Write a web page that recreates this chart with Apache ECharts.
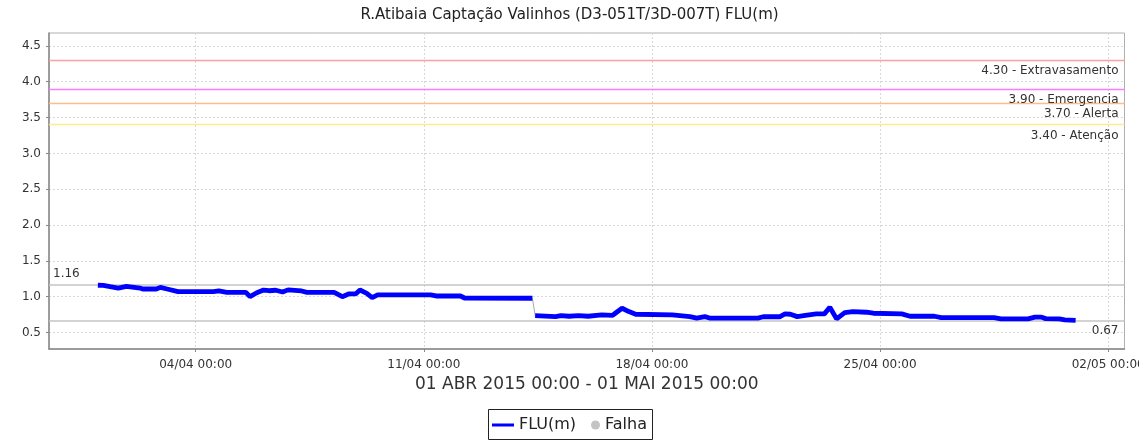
<!DOCTYPE html>
<html>
<head>
<meta charset="utf-8">
<script src="https://cdn.jsdelivr.net/npm/echarts@6/dist/echarts.min.js"></script>
<style>
html,body{margin:0;padding:0;background:#fff;}
#chart{width:1139px;height:441px;}
</style>
</head>
<body>
<div id="chart"></div>
<script>
// ---- data ----
const fluTimes = [
'2015-04-01 00:00','2015-04-01 04:00','2015-04-01 09:00','2015-04-01 15:00','2015-04-01 21:00',
'2015-04-02 07:00','2015-04-02 09:00','2015-04-02 19:00','2015-04-02 22:00','2015-04-03 03:00',
'2015-04-03 11:00','2015-04-04 13:00','2015-04-04 17:00','2015-04-04 23:00','2015-04-05 13:00',
'2015-04-05 16:00','2015-04-05 21:00','2015-04-06 02:00','2015-04-06 06:00','2015-04-06 11:00',
'2015-04-06 16:00','2015-04-06 20:00','2015-04-07 06:00','2015-04-07 10:00','2015-04-08 06:00',
'2015-04-08 12:00','2015-04-08 17:00','2015-04-08 22:00','2015-04-09 01:00','2015-04-09 06:00',
'2015-04-09 10:00','2015-04-09 14:00','2015-04-11 05:00','2015-04-11 09:00','2015-04-12 03:00',
'2015-04-12 06:00','2015-04-14 08:00','2015-04-14 09:00','2015-04-14 10:00','2015-04-15 01:00',
'2015-04-15 05:00','2015-04-15 11:00','2015-04-15 18:00','2015-04-16 01:00','2015-04-16 11:00',
'2015-04-16 19:00','2015-04-16 21:00','2015-04-17 02:00','2015-04-17 07:00','2015-04-17 12:00',
'2015-04-18 15:00','2015-04-19 04:00','2015-04-19 09:00','2015-04-19 15:00','2015-04-19 19:00',
'2015-04-21 06:00','2015-04-21 10:00','2015-04-21 22:00','2015-04-22 02:00','2015-04-22 06:00',
'2015-04-22 11:00','2015-04-22 17:00','2015-04-23 01:00','2015-04-23 07:00','2015-04-23 11:00',
'2015-04-23 16:00','2015-04-23 22:00','2015-04-24 04:00','2015-04-24 14:00','2015-04-24 19:00',
'2015-04-25 16:00','2015-04-25 22:00','2015-04-26 16:00','2015-04-26 21:00','2015-04-28 12:00',
'2015-04-28 17:00','2015-04-29 13:00','2015-04-29 18:00','2015-04-29 23:00','2015-04-30 02:00',
'2015-04-30 12:00','2015-04-30 16:00','2015-05-01 00:00'
];
const fluValues = [
1.16,1.158,1.14,1.12,1.145,
1.12,1.107,1.107,1.13,1.107,
1.07,1.07,1.08,1.06,1.06,
1.0,1.055,1.093,1.083,1.09,
1.065,1.095,1.08,1.06,1.06,
1.0,1.04,1.04,1.093,1.047,
0.986,1.024,1.024,1.01,1.01,
0.982,0.978,null,0.736,0.722,
0.736,0.727,0.736,0.727,0.746,
0.74,0.769,0.839,0.792,0.755,
0.746,0.722,0.70,0.722,0.70,
0.70,0.72,0.72,0.76,0.755,
0.722,0.74,0.76,0.76,0.853,
0.69,0.778,0.792,0.783,0.769,
0.76,0.727,0.727,0.708,0.708,
0.69,0.69,0.714,0.714,0.694,
0.69,0.676,0.67
];
const falhaTimes = ['2015-04-14 08:00','2015-04-14 10:00'];
const falhaValues = [0.978, 0.736];

const thresholdValues = [4.30, 3.90, 3.70, 3.40];
const thresholdNames = ['Extravasamento', 'Emergencia', 'Alerta', 'Atenção'];
const thresholdColors = ['#ff9f9f', '#ff7aff', '#ffbb88', '#ffe98a'];

const yTickValues = [0.5, 1.0, 1.5, 2.0, 2.5, 3.0, 3.5, 4.0, 4.5];
const xTickDates = ['2015-04-04 00:00','2015-04-11 00:00','2015-04-18 00:00','2015-04-25 00:00','2015-05-02 00:00'];
const xMin = '2015-03-30 12:00';
const xMax = '2015-05-02 12:00';
const yMin = 0.27, yMax = 4.68;

const titleText = 'R.Atibaia Captação Valinhos (D3-051T/3D-007T) FLU(m)';
const xAxisName = '01 ABR 2015 00:00 - 01 MAI 2015 00:00';

// ---- build ----
const FONT = 'DejaVu Sans';
const ts = s => +echarts.time.parse(s);
const fluData = fluTimes.map((t, i) => [ts(t), fluValues[i]]);
const falhaData = falhaTimes.map((t, i) => [ts(t), falhaValues[i]]);
const xTicks = xTickDates.map(ts);
const valid = fluValues.filter(v => v != null);
const vMax = Math.max(...valid), vMin = Math.min(...valid);
const pad2 = n => (n < 10 ? '0' : '') + n;
const fmtX = v => { const d = new Date(v); return pad2(d.getDate()) + '/' + pad2(d.getMonth() + 1) + ' ' + pad2(d.getHours()) + ':' + pad2(d.getMinutes()); };

function refLineSeries(value, color, width, position, text, dist, z) {
  return {
    type: 'line', data: [], silent: true, z: z,
    markLine: {
      silent: true, symbol: 'none', animation: false,
      lineStyle: { color: color, width: width, type: 'solid', opacity: 1 },
      emphasis: { disabled: true },
      label: { show: true, position: position, distance: dist, formatter: text,
        color: '#333', fontSize: 12, fontFamily: FONT },
      data: [{ yAxis: value, lineStyle: { color: color } }]
    }
  };
}

const refSeries = thresholdValues.map((v, i) =>
  refLineSeries(v, thresholdColors[i], 1.3, 'insideEndBottom', v.toFixed(2) + ' - ' + thresholdNames[i], [6, 5], 3 + i));
refSeries.push(refLineSeries(vMax, '#c4c4c4', 1.5, 'insideStartTop', vMax.toFixed(2), [4, 5], 3));
refSeries.push(refLineSeries(vMin, '#c4c4c4', 1.5, 'insideEndBottom', vMin.toFixed(2), [6, 5], 3));

const chart = echarts.init(document.getElementById('chart'), null, { renderer: 'canvas' });
chart.setOption({
  animation: false,
  backgroundColor: '#fff',
  textStyle: { fontFamily: FONT },
  title: {
    text: titleText, left: 'center', top: 3,
    textStyle: { fontSize: 15, fontWeight: 'normal', color: '#222', fontFamily: FONT }
  },
  legend: [
    {
      data: [{ name: 'FLU(m)', icon: 'path://M0,0h22v3h-22z' }],
      left: 492, top: 417, padding: 0, itemWidth: 22, itemHeight: 3, itemGap: 5,
      textStyle: { fontSize: 16, color: '#222', fontFamily: FONT },
      selectedMode: false
    },
    {
      data: [{ name: 'Falha', icon: 'circle' }],
      left: 591, top: 417, padding: 0, itemWidth: 9, itemHeight: 9, itemGap: 5,
      textStyle: { fontSize: 16, color: '#222', fontFamily: FONT },
      selectedMode: false
    }
  ],
  graphic: [{
    type: 'rect', shape: { x: 488.5, y: 409.5, width: 164, height: 30 },
    style: { fill: 'none', stroke: '#222', lineWidth: 1 }, silent: true
  }],
  grid: {
    left: 49, top: 33, right: 14.5, bottom: 92, containLabel: false, outerBoundsMode: 'none',
    show: true, borderColor: '#b0b0b0', borderWidth: 1, backgroundColor: '#fff'
  },
  xAxis: {
    type: 'value', min: ts(xMin), max: ts(xMax),
    name: xAxisName, nameLocation: 'middle', nameGap: 27,
    nameTextStyle: { fontSize: 17, color: '#333', fontFamily: FONT },
    axisLine: { show: true, lineStyle: { color: '#888', width: 1.5 } },
    axisTick: { show: true, customValues: xTicks, length: 3, lineStyle: { color: '#888' } },
    axisLabel: {
      customValues: xTicks, margin: 10, fontSize: 12, color: '#333', fontFamily: FONT,
      formatter: fmtX, hideOverlap: false
    },
    splitLine: { show: true, lineStyle: { color: '#d8d8d8', type: [2, 2], width: 1 } }
  },
  yAxis: {
    type: 'value', min: yMin, max: yMax,
    axisLine: { show: true, lineStyle: { color: '#888', width: 1.5 } },
    axisTick: { show: true, customValues: yTickValues, length: 3, lineStyle: { color: '#888' } },
    axisLabel: {
      customValues: yTickValues, margin: 8, fontSize: 12, color: '#333', fontFamily: FONT,
      formatter: v => v.toFixed(1)
    },
    splitLine: { show: true, lineStyle: { color: '#d8d8d8', type: [2, 2], width: 1 } }
  },
  series: [
    {
      name: 'FLU(m)', type: 'line', data: fluData, showSymbol: false, symbol: 'none',
      connectNulls: false, color: '#0000ff',
      lineStyle: { color: '#0000ff', width: 4.8 }, z: 10
    },
    {
      name: 'Falha', type: 'line', data: falhaData, showSymbol: false, symbol: 'none',
      itemStyle: { color: '#c4c4c4' }, color: '#c4c4c4',
      lineStyle: { color: '#a8a8a8', width: 1 }, z: 9
    }
  ].concat(refSeries)
});
</script>
</body>
</html>
